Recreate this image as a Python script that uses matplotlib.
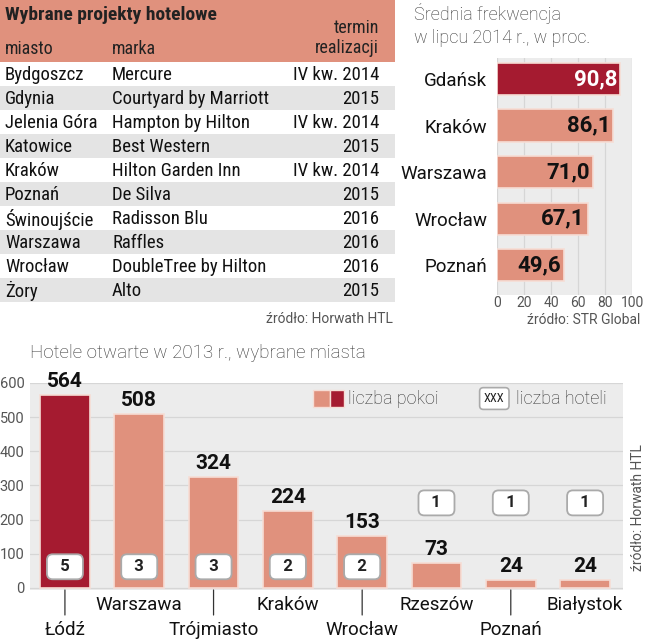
import matplotlib.pyplot as plt
from matplotlib.patches import Rectangle

W, H = 648, 640
plt.rcParams['font.family'] = ['Roboto', 'DejaVu Sans']

SALMON = '#e0917d'
DARK = '#a51b30'
GRAY_BG = '#ececec'
GRID = '#d6d6d6'
COND = ['Roboto Condensed', 'Roboto', 'DejaVu Sans']

# --- data ---
tab_miasto = ['Bydgoszcz', 'Gdynia', 'Jelenia Góra', 'Katowice', 'Kraków', 'Poznań',
              'Świnoujście', 'Warszawa', 'Wrocław', 'Żory']
tab_marka = ['Mercure', 'Courtyard by Marriott', 'Hampton by Hilton', 'Best Western',
             'Hilton Garden Inn', 'De Silva', 'Radisson Blu', 'Raffles',
             'DoubleTree by Hilton', 'Alto']
tab_termin = ['IV kw. 2014', '2015', 'IV kw. 2014', '2015', 'IV kw. 2014', '2015',
              '2016', '2016', '2016', '2015']

frek_miasta = ['Gdańsk', 'Kraków', 'Warszawa', 'Wrocław', 'Poznań']
frek_vals = [90.8, 86.1, 71.0, 67.1, 49.6]

hot_miasta = ['Łódź', 'Warszawa', 'Trójmiasto', 'Kraków', 'Wrocław', 'Rzeszów',
              'Poznań', 'Białystok']
hot_pokoje = [564, 508, 324, 224, 153, 73, 24, 24]
hot_hotele = [5, 3, 3, 2, 2, 1, 1, 1]


def px(x0, y0, x1, y1):
    return [x0 / W, 1 - y1 / H, (x1 - x0) / W, (y1 - y0) / H]


fig = plt.figure(figsize=(W / 100, H / 100), dpi=100)

# ---------- table ----------
ax = fig.add_axes(px(0, 0, 395, 302))
ax.set_xlim(0, 395)
ax.set_ylim(len(tab_miasto), -2.58)
ax.axis('off')
ax.add_patch(Rectangle((0, -2.58), 395, 2.58, fc=SALMON, ec='none'))
ax.text(5, -1.95, 'Wybrane projekty hotelowe', fontsize=14, fontweight='bold',
        va='center', color='#222', family=COND)
ax.text(5, -0.55, 'miasto', fontsize=13, va='center', color='#222', family=COND)
ax.text(112, -0.55, 'marka', fontsize=13, va='center', color='#222', family=COND)
ax.text(379, -1.0, 'termin\nrealizacji', fontsize=13, va='center', ha='right',
        color='#222', linespacing=1.1, family=COND)
for i in range(len(tab_miasto)):
    if i % 2 == 1:
        ax.add_patch(Rectangle((0, i), 395, 1, fc='#e4e4e4', ec='none'))
    ax.text(5, i + 0.55, tab_miasto[i], fontsize=13.5, va='center', color='#111',
            family=COND)
    ax.text(112, i + 0.55, tab_marka[i], fontsize=13.5, va='center', color='#111',
            family=COND)
    ax.text(379, i + 0.55, tab_termin[i], fontsize=13.5, va='center', ha='right',
            color='#111', family=COND)
fig.text(393 / W, 1 - 319 / H, 'źródło: Horwath HTL', fontsize=10, ha='right',
         va='center', color='#555')

# ---------- frekwencja ----------
fig.text(414 / W, 1 - 25 / H, 'Średnia frekwencja\nw lipcu 2014 r., w proc.',
         fontsize=13, va='center', color='#333', linespacing=1.4,
         fontweight='light')
ax2 = fig.add_axes(px(497, 58, 632, 295))
ax2.set_facecolor(GRAY_BG)
for s in ax2.spines.values():
    s.set_visible(False)
ax2.set_xlim(0, 100)
ax2.set_ylim(4.64, -0.45)
ax2.set_xticks([0, 20, 40, 60, 80, 100])
ax2.tick_params(axis='x', length=0, labelsize=10, labelcolor='#555', pad=1)
ax2.grid(axis='x', color=GRID, lw=0.9)
ax2.set_axisbelow(True)
ypos = list(range(len(frek_miasta)))
cols = [DARK] + [SALMON] * (len(frek_miasta) - 1)
ax2.barh(ypos, frek_vals, height=0.69, color=cols, edgecolor='#f6ddd5', lw=1.2)
ax2.set_yticks(ypos)
ax2.set_yticklabels(frek_miasta, fontsize=13.5, color='#111')
ax2.tick_params(axis='y', length=0, pad=7)
for i, v in enumerate(frek_vals):
    ax2.text(v - 2, i, f'{v:.1f}'.replace('.', ','), ha='right', va='center',
             fontsize=16, fontweight='bold', color='white' if i == 0 else '#111')
fig.text(640 / W, 1 - 320 / H, 'źródło: STR Global', fontsize=10, ha='right',
         va='center', color='#555')

# ---------- hotele otwarte ----------
fig.text(30 / W, 1 - 353 / H, 'Hotele otwarte w 2013 r., wybrane miasta',
         fontsize=13.5, va='center', color='#333', fontweight='light')
ax3 = fig.add_axes(px(30, 383, 623, 590))
ax3.set_facecolor(GRAY_BG)
for s in ax3.spines.values():
    s.set_visible(False)
ax3.set_ylim(-6, 600)
ax3.set_xlim(-0.47, 7.51)
ax3.set_yticks([0, 100, 200, 300, 400, 500, 600])
ax3.tick_params(axis='y', length=0, labelsize=10.5, labelcolor='#555', pad=4)
ax3.grid(axis='y', color=GRID, lw=0.9)
ax3.set_axisbelow(True)
xpos = list(range(len(hot_miasta)))
cols3 = [DARK] + [SALMON] * (len(hot_miasta) - 1)
ax3.bar(xpos, hot_pokoje, width=0.67, color=cols3, edgecolor='#f6ddd5', lw=1.2)
ax3.set_xticks([])
for i, v in enumerate(hot_pokoje):
    ax3.annotate(str(v), (i, v), xytext=(0, 3), textcoords='offset points',
                 ha='center', va='bottom', fontsize=15, fontweight='bold',
                 color='#111')
    yb = 62 if v > 100 else 249
    ax3.text(i, yb, f'  {hot_hotele[i]}  ', ha='center', va='center', fontsize=12,
             fontweight='bold', color='#222',
             bbox=dict(boxstyle='round,pad=0.3,rounding_size=0.35', fc='white',
                       ec='#aaaaaa', lw=1.3))
    if i % 2 == 0:
        ax3.annotate('', (i, -6), xytext=(0, -18), textcoords='offset points',
                     annotation_clip=False,
                     arrowprops=dict(arrowstyle='-', color='#333', lw=0.9,
                                     shrinkA=0, shrinkB=0))
        ax3.annotate(hot_miasta[i], (i, -6), xytext=(0, -29),
                     textcoords='offset points', ha='center', va='center',
                     fontsize=13.5, color='#111', annotation_clip=False)
    else:
        ax3.annotate(hot_miasta[i], (i, -6), xytext=(0, -11),
                     textcoords='offset points', ha='center', va='center',
                     fontsize=13.5, color='#111', annotation_clip=False)

# legend
ax3.add_patch(Rectangle((0.478, 0.885), 0.028, 0.08, transform=ax3.transAxes,
                        fc=SALMON, ec='#f6ddd5', lw=1))
ax3.add_patch(Rectangle((0.506, 0.885), 0.024, 0.08, transform=ax3.transAxes,
                        fc=DARK, ec='#f6ddd5', lw=1))
ax3.text(0.536, 0.925, 'liczba pokoi', transform=ax3.transAxes, fontsize=13,
         va='center', color='#333', fontweight='light')
ax3.text(0.783, 0.925, 'XXX', transform=ax3.transAxes, fontsize=9, ha='center',
         va='center', color='#222', family=COND,
         bbox=dict(boxstyle='round,pad=0.35,rounding_size=0.3', fc='white',
                   ec='#aaaaaa', lw=1.2))
ax3.text(0.82, 0.925, 'liczba hoteli', transform=ax3.transAxes, fontsize=13,
         va='center', color='#333', fontweight='light')

fig.text(638 / W, 1 - 508 / H, 'źródło: Horwath HTL', rotation=90, fontsize=10,
         ha='center', va='center', color='#555')

fig.savefig('out.png', dpi=100)
